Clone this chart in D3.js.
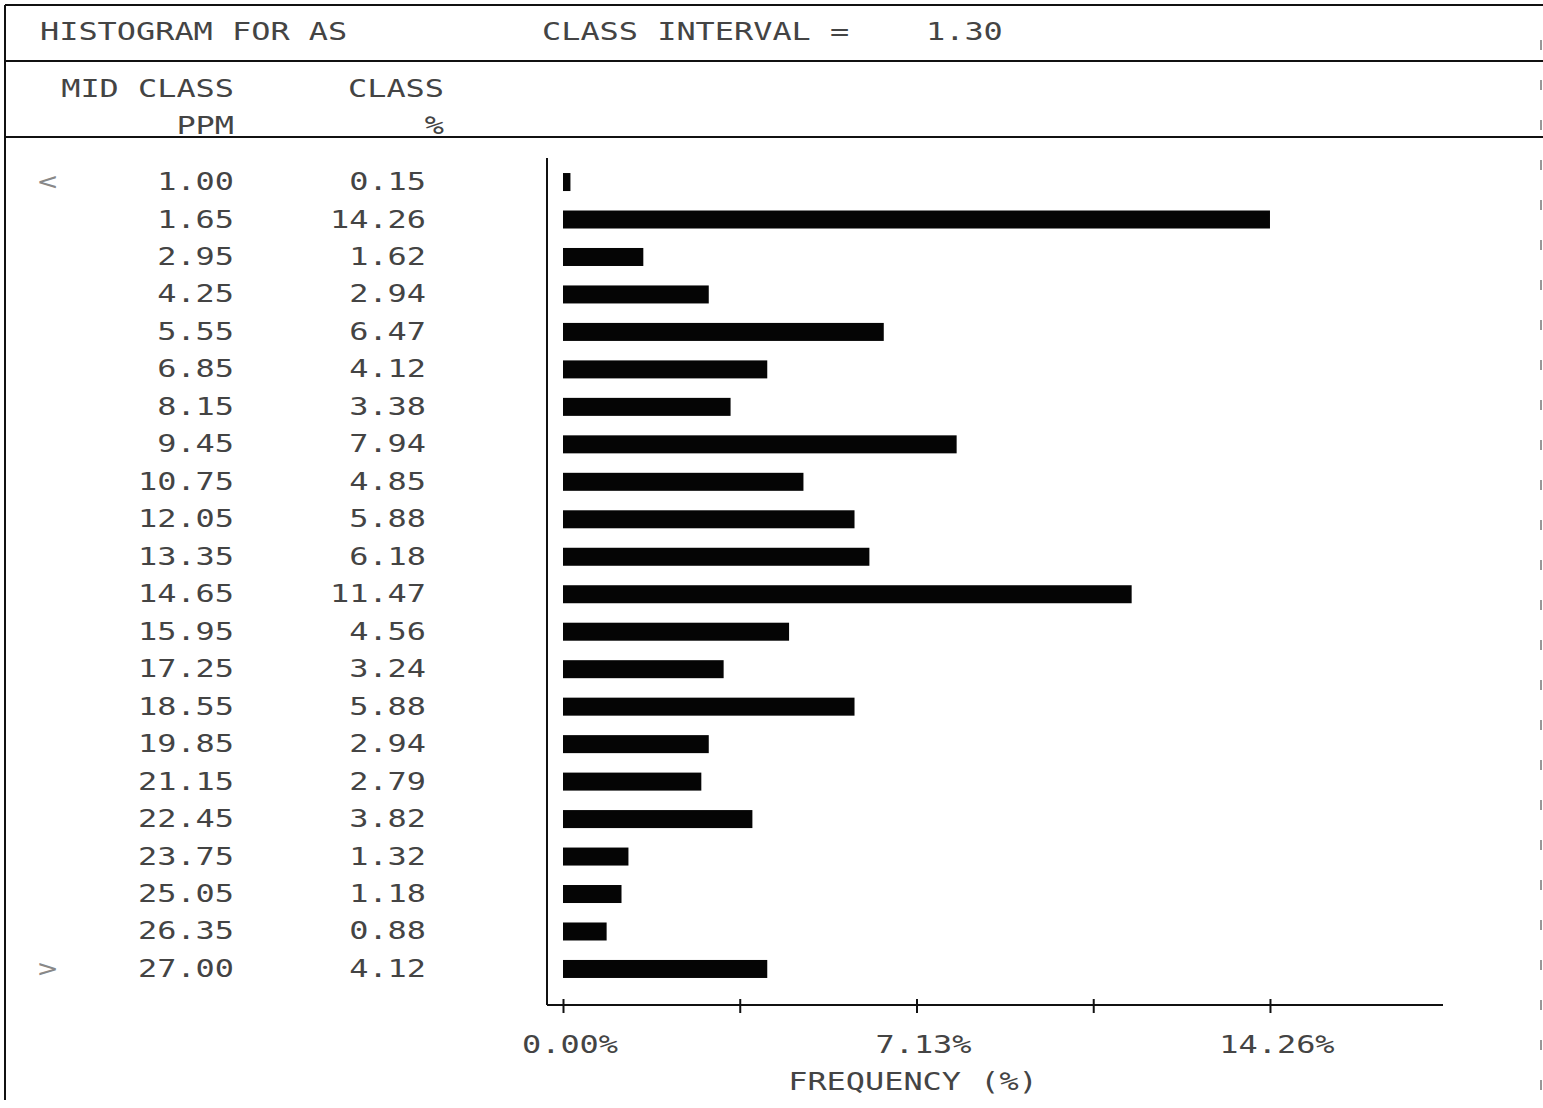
<!DOCTYPE html>
<html>
<head>
<meta charset="utf-8">
<script src="https://cdn.jsdelivr.net/npm/d3@7"></script>
<style>
  html, body { margin: 0; padding: 0; background: #fff; }
  svg text { font-family: "DejaVu Sans Mono", monospace; font-size: 24px; fill: #444; }
</style>
</head>
<body>
<svg id="chart" width="1543" height="1108"></svg>
<script>
// Histogram of AS concentrations, class interval 1.30 ppm
const midClass = ["1.00", "1.65", "2.95", "4.25", "5.55", "6.85", "8.15", "9.45", "10.75", "12.05",
  "13.35", "14.65", "15.95", "17.25", "18.55", "19.85", "21.15", "22.45", "23.75", "25.05", "26.35", "27.00"];
const classPct = [0.15, 14.26, 1.62, 2.94, 6.47, 4.12, 3.38, 7.94, 4.85, 5.88,
  6.18, 11.47, 4.56, 3.24, 5.88, 2.94, 2.79, 3.82, 1.32, 1.18, 0.88, 4.12];
const rowMarks = ["<", "", "", "", "", "", "", "", "", "", "", "", "", "", "", "", "", "", "", "", "", ">"];
const tickValues = [0, 3.565, 7.13, 10.695, 14.26];
const tickLabels = ["0.00%", "", "7.13%", "", "14.26%"];

const svg = d3.select("#chart");
const adv = 19.2; // printer character pitch

// Stretch glyphs to the wide printer pitch
function pitch(sel) {
  sel.each(function () {
    const s = this.textContent;
    if (s.length) d3.select(this).attr("textLength", s.length * adv).attr("lengthAdjust", "spacingAndGlyphs");
  });
  return sel;
}

// Frame and header rules
const frame = svg.append("g").attr("stroke", "#111").attr("stroke-width", 2).attr("fill", "none");
frame.append("line").attr("x1", 5).attr("x2", 1543).attr("y1", 5).attr("y2", 5);
frame.append("line").attr("x1", 5).attr("x2", 1543).attr("y1", 61).attr("y2", 61);
frame.append("line").attr("x1", 5).attr("x2", 1543).attr("y1", 137).attr("y2", 137);
frame.append("line").attr("x1", 5).attr("x2", 5).attr("y1", 5).attr("y2", 1100);
frame.append("line").attr("x1", 1541).attr("x2", 1541).attr("y1", 40).attr("y2", 1100)
  .attr("stroke", "#777").attr("stroke-width", 1.5).attr("stroke-dasharray", "10 30");

// Header text
const header = svg.append("g");
header.append("text").attr("x", 40).attr("y", 40).text("HISTOGRAM FOR AS");
header.append("text").attr("x", 542).attr("y", 40).text("CLASS INTERVAL =");
header.append("text").attr("x", 926).attr("y", 40).text("1.30");
header.append("text").attr("x", 234).attr("y", 97).attr("text-anchor", "end").text("MID CLASS");
header.append("text").attr("x", 444).attr("y", 97).attr("text-anchor", "end").text("CLASS");
header.append("text").attr("x", 234).attr("y", 134).attr("text-anchor", "end").text("PPM");
header.append("text").attr("x", 444).attr("y", 134).attr("text-anchor", "end").text("%");
pitch(header.selectAll("text"));

// Scales
const x = d3.scaleLinear().domain([0, 17.75]).range([563, 1443]);
const y = d3.scaleBand().domain(d3.range(midClass.length)).range([162.3, 986.7]).padding(0);
const yc = i => y(i) + y.bandwidth() / 2;

// Table columns
const rows = svg.append("g");
rows.selectAll("text.mark").data(rowMarks).join("text").attr("class", "mark")
  .attr("x", 38).attr("y", (d, i) => yc(i) + 9).style("fill", "#888").text(d => d);
rows.selectAll("text.mid").data(midClass).join("text").attr("class", "mid")
  .attr("x", 234).attr("y", (d, i) => yc(i) + 9).attr("text-anchor", "end").text(d => d);
rows.selectAll("text.pct").data(classPct).join("text").attr("class", "pct")
  .attr("x", 426).attr("y", (d, i) => yc(i) + 9).attr("text-anchor", "end").text(d => d.toFixed(2));
pitch(rows.selectAll("text"));

// Bars
svg.append("g").selectAll("rect").data(classPct).join("rect")
  .attr("x", x(0)).attr("y", (d, i) => yc(i) - 8).attr("height", 18)
  .attr("width", d => x(d) - x(0)).attr("fill", "#050505");

// Axes
const axisX0 = 547, axisY = 1005;
const ax = svg.append("g").attr("stroke", "#111").attr("stroke-width", 2);
ax.append("line").attr("x1", axisX0).attr("x2", axisX0).attr("y1", 158).attr("y2", axisY);
ax.append("line").attr("x1", axisX0).attr("x2", x.range()[1]).attr("y1", axisY).attr("y2", axisY);

const xAxis = d3.axisBottom(x).tickValues(tickValues).tickFormat("").tickSizeInner(8).tickSizeOuter(0);
const gx = svg.append("g").attr("transform", `translate(0,${axisY - 6})`).call(xAxis);
gx.select(".domain").remove();
gx.selectAll(".tick line").attr("stroke", "#111").attr("stroke-width", 2).attr("y2", 14);

const tl = svg.append("g");
tl.selectAll("text").data(tickValues).join("text")
  .attr("x", d => x(d) + 7).attr("y", 1053).attr("text-anchor", "middle")
  .text((d, i) => tickLabels[i]);
tl.append("text").attr("x", 913).attr("y", 1090).attr("text-anchor", "middle").text("FREQUENCY (%)");
pitch(tl.selectAll("text"));
</script>
</body>
</html>
